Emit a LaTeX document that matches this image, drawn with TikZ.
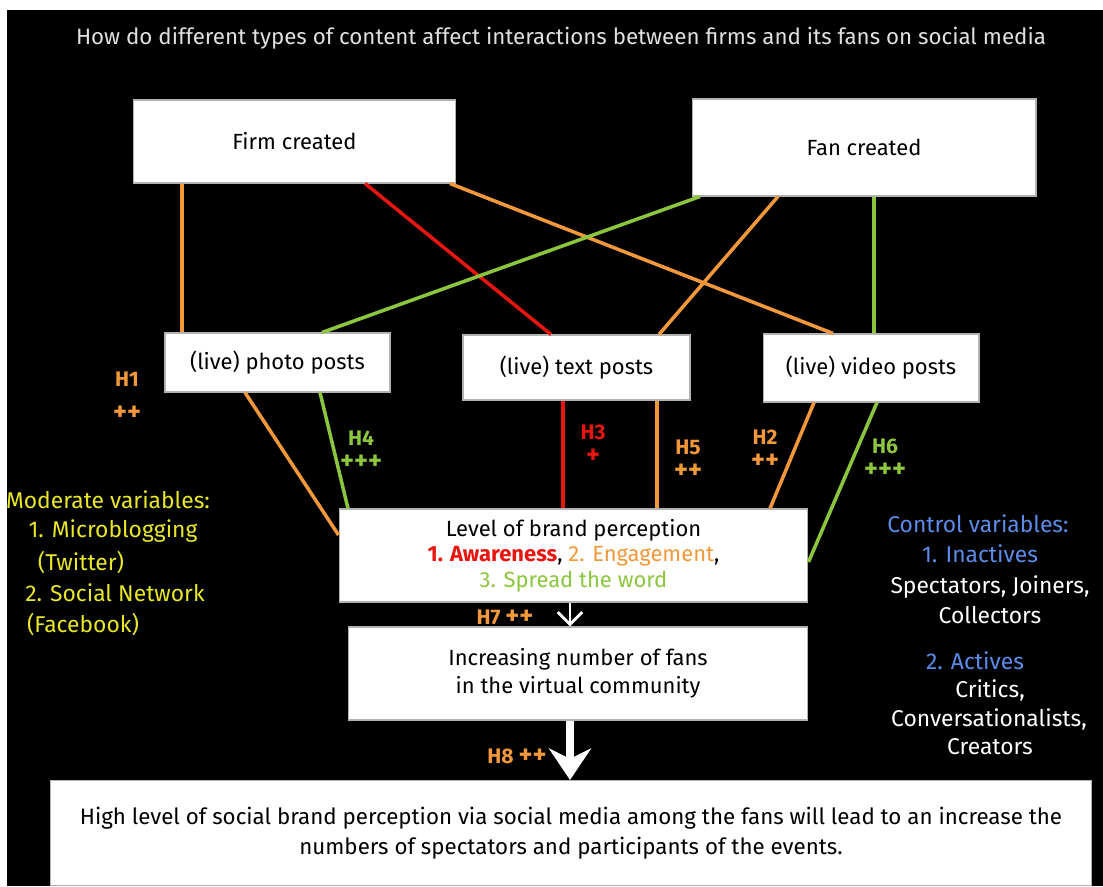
\documentclass[tikz,border=0pt]{standalone}
\usepackage{fontspec}
\setmainfont{Fira Sans}
\usetikzlibrary{
	arrows.meta,
	positioning
}

\definecolor{hOrange}{RGB}{242,152,58}
\definecolor{hRed}{RGB}{232,22,16}
\definecolor{hGreen}{RGB}{140,198,63}
\definecolor{modYellow}{RGB}{232,232,40}
\definecolor{ctrlBlue}{RGB}{92,140,232}

\newcommand{\plus}[1]{{\fontsize{15}{15}\selectfont #1}}

\tikzset{
	box/.style={draw=gray!60, line width=0.6pt, fill=white, text=black, inner sep=0pt, align=center, font=\fontsize{12.5}{15}\selectfont},
	link/.style={line width=2pt},
	hyp/.style={align=center, font=\fontsize{12}{13}\selectfont\bfseries},
	side/.style={font=\fontsize{13}{15}\selectfont}
}

\begin{document}
\begin{tikzpicture}[x=0.02cm, y=-0.02cm]
		% page and black panel
		\fill[white] (0,0) rectangle (1103,886);
		\fill[black] (7,10) rectangle (1103,886);
		\node[text=white!88!black, font=\fontsize{12.7}{14}\selectfont] (title) at (561,38) {How do different types of content affect interactions between firms and its fans on social media};
		% sources
		\node[box, minimum width=6.46cm, minimum height=1.66cm] (firm) at (294.5,141.5) {Firm created};
		\node[box, minimum width=6.88cm, minimum height=1.94cm] (fan) at (864,147.5) {Fan created};
		% content types
		\node[box, minimum width=4.5cm, minimum height=1.18cm] (photo) at (277.5,362.5) {(live) photo posts};
		\node[box, minimum width=4.54cm, minimum height=1.3cm] (text) at (576.5,367.5) {(live) text posts};
		\node[box, minimum width=4.32cm, minimum height=1.36cm] (video) at (871,368) {(live) video posts};
		% outcomes
		\node[box, minimum width=9.38cm, minimum height=1.86cm, font=\fontsize{12.5}{14.5}\selectfont] (level) at (573.5,555.5) {Level of brand perception\\{\color{hRed}\bfseries 1. Awareness}, {\color{hOrange}2. Engagement},\\{\color{hGreen}3. Spread the word}};
		\node[box, minimum width=9.2cm, minimum height=1.86cm, font=\fontsize{12.5}{16}\selectfont] (fans) at (578,673.5) {Increasing number of fans\\in the virtual community};
		\node[box, minimum width=20.84cm, minimum height=2.1cm, font=\fontsize{12.7}{17}\selectfont] (outcome) at (571,833) {High level of social brand perception via social media among the fans will lead to an increase the\\numbers of spectators and participants of the events.};
		% links from sources
		\draw[link, hOrange] (182,0 |- firm.south) -- (182,0 |- photo.north);
		\draw[link, hRed] (365,0 |- firm.south) -- (551,0 |- text.north);
		\draw[link, hOrange] (450,0 |- firm.south) -- (833,0 |- video.north);
		\draw[link, hGreen] (700,0 |- fan.south) -- (322,0 |- photo.north);
		\draw[link, hOrange] (778,0 |- fan.south) -- (659,0 |- text.north);
		\draw[link, hGreen] (874,0 |- fan.south) -- (874,0 |- video.north);
		% links into brand perception
		\draw[link, hOrange] (245,0 |- photo.south) -- ([yshift=0.41cm]level.west);
		\draw[link, hGreen] (320,0 |- photo.south) -- (348,0 |- level.north);
		\draw[link, hRed] (563,0 |- text.south) -- (563,0 |- level.north);
		\draw[link, hOrange] (657,0 |- text.south) -- (657,0 |- level.north);
		\draw[link, hOrange] (814,0 |- video.south) -- (770,0 |- level.north);
		\draw[link, hGreen] (877,0 |- video.south) -- ([yshift=-0.13cm]level.east);
		% downward arrows
		\draw[white, line width=1.7pt, -{Straight Barb[length=7pt, width=14pt]}] (570,0 |- level.south) -- (570,0 |- fans.north);
		\draw[white, line width=5pt, -{Stealth[length=18pt, width=24pt, inset=6pt]}] (570,0 |- fans.south) -- (570,0 |- outcome.north);
		% hypotheses
		\node[hyp, text=hOrange] (h1) at (127,396) {H1\\[6pt]\plus{++}};
		\node[hyp, text=hGreen] (h4) at (361,450) {H4\\[1pt]\plus{+++}};
		\node[hyp, text=hRed] (h3) at (593,444) {H3\\[1pt]\plus{+}};
		\node[hyp, text=hOrange] (h5) at (688,459) {H5\\[1pt]\plus{++}};
		\node[hyp, text=hOrange] (h2) at (765,449) {H2\\[1pt]\plus{++}};
		\node[hyp, text=hGreen] (h6) at (885,458) {H6\\[1pt]\plus{+++}};
		\node[hyp, text=hOrange] (h7) at (505,617) {H7 \plus{++}};
		\node[hyp, text=hOrange] (h8) at (517,756) {H8 \plus{++}};
		% moderating variables
		\node[side, text=modYellow] (mod1) at (108,500) {Moderate variables:};
		\node[side, text=modYellow] (mod2) at (113,531) {1. Microblogging};
		\node[side, text=modYellow] (mod3) at (81,562) {(Twitter)};
		\node[side, text=modYellow] (mod4) at (115,593) {2. Social Network};
		\node[side, text=modYellow] (mod5) at (83,624) {(Facebook)};
		% control variables
		\node[side, text=ctrlBlue] (ctrl1) at (978,524) {Control variables:};
		\node[side, text=ctrlBlue] (ctrl2) at (980,554) {1. Inactives};
		\node[side, text=white] (ctrl3) at (990,587) {Spectators, Joiners,};
		\node[side, text=white] (ctrl4) at (990,615) {Collectors};
		\node[side, text=ctrlBlue] (ctrl5) at (975,661) {2. Actives};
		\node[side, text=white] (ctrl6) at (990,690) {Critics,};
		\node[side, text=white] (ctrl7) at (989,719) {Conversationalists,};
		\node[side, text=white] (ctrl8) at (990,747) {Creators};
	\end{tikzpicture}
\end{document}
